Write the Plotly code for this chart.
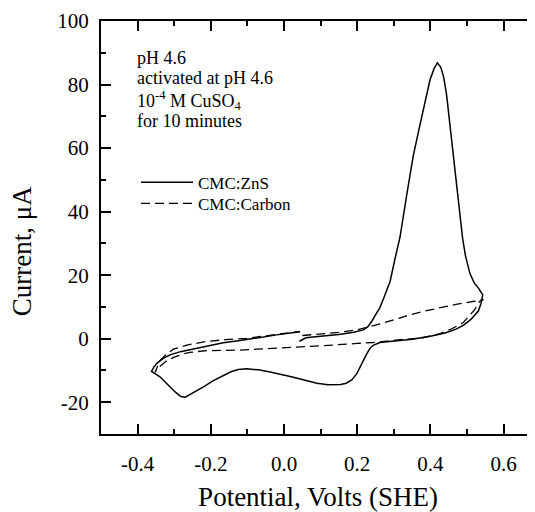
import plotly.graph_objects as go

# CMC:ZnS electrode (solid)
zns_v = [0.042, 0.06, 0.10, 0.15, 0.19, 0.215, 0.228, 0.24, 0.25, 0.262, 0.275, 0.29, 0.303, 0.317,
         0.335, 0.353, 0.368, 0.381, 0.399, 0.41, 0.419, 0.428, 0.436, 0.444, 0.454, 0.467, 0.481,
         0.488, 0.496, 0.508, 0.52, 0.531, 0.543,
         0.538, 0.531, 0.51, 0.49, 0.47, 0.44, 0.40, 0.35, 0.30, 0.262, 0.245, 0.235, 0.225, 0.217,
         0.208, 0.199, 0.185, 0.17, 0.155, 0.12, 0.09, 0.06, 0.02, -0.038, -0.07, -0.102, -0.125,
         -0.145, -0.17, -0.193, -0.22, -0.245, -0.257, -0.27, -0.282, -0.295, -0.311, -0.325, -0.339,
         -0.352, -0.362,
         -0.355, -0.346, -0.33, -0.31, -0.28, -0.257, -0.22, -0.166, -0.12, -0.075, -0.02, 0.044]
zns_i = [-0.8, 0.3, 0.8, 1.3, 2.0, 2.7, 3.6, 5.5, 7.5, 9.8, 13.5, 18.1, 25.0, 32.0,
         45.0, 57.5, 65.5, 72.0, 81.5, 85.0, 86.8, 85.5, 82.5, 77.0, 67.0, 52.4, 38.8,
         31.6, 26.0, 20.5, 17.5, 16.0, 13.8,
         11.0, 8.7, 6.0, 4.2, 3.0, 1.8, 0.8, -0.2, -0.8, -1.2, -2.0, -3.0, -5.0, -7.0,
         -9.0, -11.0, -13.0, -14.0, -14.4, -14.5, -14.0, -13.1, -12.0, -10.5, -9.8, -9.5, -9.7,
         -10.4, -11.8, -13.2, -15.2, -16.8, -17.5, -18.4, -18.2, -17.0, -15.2, -13.5, -12.0,
         -11.0, -10.3,
         -8.8, -7.6, -6.2, -5.0, -4.0, -3.5, -2.5, -1.3, -0.6, 0.3, 1.2, 2.2]

# CMC:Carbon electrode (dashed)
carbon_v = [0.05, 0.10, 0.15, 0.20, 0.226, 0.26, 0.30, 0.335, 0.38, 0.426, 0.47, 0.51, 0.545,
            0.535, 0.52, 0.49, 0.46, 0.426, 0.38, 0.30, 0.244, 0.20, 0.107, -0.075, -0.12, -0.211,
            -0.257, -0.275, -0.30, -0.32, -0.34, -0.352,
            -0.345, -0.339, -0.32, -0.302, -0.26, -0.211, -0.16, -0.102, -0.05, 0.0, 0.044]
carbon_i = [1.0, 1.5, 2.0, 2.8, 3.5, 4.6, 5.9, 7.2, 8.6, 9.75, 10.8, 11.6, 12.3,
            11.8, 9.0, 5.1, 3.2, 1.6, 0.3, -0.5, -1.2, -1.5, -2.2, -3.3, -3.6, -3.75,
            -4.3, -4.8, -5.8, -6.9, -8.8, -10.5,
            -8.5, -6.9, -4.8, -3.3, -1.9, -0.85, -0.3, 0.1, 0.9, 1.6, 2.3]

series_names = ["CMC:ZnS", "CMC:Carbon"]
x_tickvals = [-0.4, -0.2, 0.0, 0.2, 0.4, 0.6]
x_ticktext = ["-0.4", "-0.2", "0.0", "0.2", "0.4", "0.6"]
y_tickvals = [-20, 0, 20, 40, 60, 80, 100]
y_ticktext = ["-20", "0", "20", "40", "60", "80", "100"]
note_lines = ["pH 4.6", "activated at pH 4.6", "10<sup>-4</sup> M CuSO<sub>4</sub>", "for 10 minutes"]
x_title = "Potential, Volts (SHE)"
y_title = "Current, μA"

FONT = "Liberation Serif, Times New Roman, serif"
OFF = 8                      # page body margin
PL, PR, PT, PB = 101, 535, 20.5, 437.5   # plot area in page pixels
W, H = PR - PL, PB - PT

def px(xp):
    return (xp - PL) / W

def py(yp):
    return 1 - (yp - PT) / H

fig = go.Figure()
fig.add_trace(go.Scatter(x=zns_v, y=zns_i, mode="lines", name=series_names[0], legend="legend",
                         line=dict(color="black", width=1.5)))
fig.add_trace(go.Scatter(x=carbon_v, y=carbon_i, mode="lines", name=series_names[1], legend="legend2",
                         line=dict(color="black", width=1.3, dash="9px,5px")))
# right-hand tick marks (no visible right axis line)
fig.add_trace(go.Scatter(x=[None], y=[None], yaxis="y2", showlegend=False, hoverinfo="skip"))

note_y_px = [58, 78, 100.5, 121.5]
for txt, ypx in zip(note_lines, note_y_px):
    fig.add_annotation(text=txt, xref="paper", yref="paper",
                       x=px(135), y=py(ypx),
                       xanchor="left", yanchor="middle", showarrow=False,
                       font=dict(family=FONT, size=18, color="black"))

fig.add_annotation(text=y_title, xref="paper", yref="paper", x=px(22), y=py(253),
                   xanchor="center", yanchor="middle", textangle=-90, showarrow=False,
                   font=dict(family=FONT, size=27, color="black"))

legend_common = dict(xanchor="left", yanchor="top", bgcolor="rgba(0,0,0,0)",
                     font=dict(family=FONT, size=17, color="black"), itemwidth=52)

fig.update_layout(
    width=535 - OFF, height=512 - OFF,
    margin=dict(l=PL - OFF, r=0, t=PT - OFF, b=512 - PB, pad=0),
    paper_bgcolor="white", plot_bgcolor="white",
    font=dict(family=FONT, color="black"),
    showlegend=True,
    legend=dict(x=px(136), y=py(165.5), **legend_common),
    legend2=dict(x=px(136), y=py(187), **legend_common),
    xaxis=dict(range=[-0.5, -0.5 + W / 366], showgrid=False, zeroline=False,
               showline=True, linecolor="black", linewidth=2, mirror="ticks",
               ticks="inside", ticklen=10, tickwidth=1.5, tickcolor="black",
               tickvals=x_tickvals, ticktext=x_ticktext,
               minor=dict(ticks="inside", ticklen=5, tickwidth=1.5, tickcolor="black",
                          tick0=-0.5, dtick=0.1),
               tickfont=dict(family=FONT, size=21, color="black"), ticklabelstandoff=10,
               title=dict(text=x_title, font=dict(family=FONT, size=27, color="black"), standoff=17)),
    yaxis=dict(range=[-30, 100], showgrid=False, zeroline=False,
               showline=True, linecolor="black", linewidth=2, mirror=False,
               ticks="inside", ticklen=10, tickwidth=1.5, tickcolor="black",
               tickvals=y_tickvals, ticktext=y_ticktext,
               minor=dict(ticks="inside", ticklen=5, tickwidth=1.5, tickcolor="black",
                          tick0=-30, dtick=10),
               tickfont=dict(family=FONT, size=21, color="black"), ticklabelstandoff=6),
    yaxis2=dict(range=[-30, 100], overlaying="y", side="right", anchor="x",
                showgrid=False, zeroline=False, showline=False, showticklabels=False,
                ticks="inside", ticklen=4, tickwidth=1.5, tickcolor="black", tick0=0, dtick=20),
)

fig.write_html("out.html")
